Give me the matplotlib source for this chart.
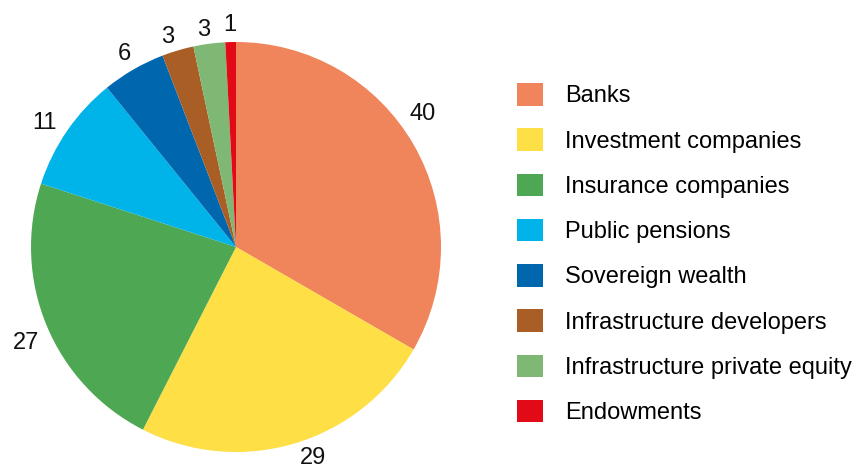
import numpy as np
import matplotlib
matplotlib.use('Agg')
import matplotlib.pyplot as plt
from matplotlib.patches import Patch

plt.rcParams['font.family'] = ['Liberation Sans', 'DejaVu Sans']

# data
categories = ['Banks', 'Investment companies', 'Insurance companies',
              'Public pensions', 'Sovereign wealth', 'Infrastructure developers',
              'Infrastructure private equity', 'Endowments']
values = [40, 29, 27, 11, 6, 3, 3, 1]
colors = ['#F0845A', '#FEDF45', '#4EA753', '#00B4EA',
          '#0066AE', '#A95E26', '#7EB874', '#E30A17']

# small nudges for value labels (degrees, radius)
label_dang = [5.5, 3.5, 2, 1.5, 0, 1.5, 1, 0]
label_r = [1.12, 1.095, 1.125, 1.115, 1.085, 1.075, 1.07, 1.085]

W, H = 857, 470
cx, cy, R = 236, 247, 205
FS = 17

fig = plt.figure(figsize=(W / 100, H / 100), dpi=100)
ax = fig.add_axes([0, 0, 1, 1])
wedges, _ = ax.pie(values, colors=colors, startangle=90, counterclock=False,
                   radius=1, wedgeprops=dict(linewidth=0))
ax.set_xlim(-cx / R, (W - cx) / R)
ax.set_ylim(-(H - cy) / R, cy / R)
ax.set_aspect('auto')
ax.axis('off')

for w, v, da, r in zip(wedges, values, label_dang, label_r):
    mid = np.deg2rad((w.theta1 + w.theta2) / 2 + da)
    ax.text(r * np.cos(mid), r * np.sin(mid), str(v), ha='center', va='center',
            fontsize=FS, color='#111111')

handles = [Patch(facecolor=c, edgecolor='none') for c in colors]
fig.legend(handles, categories, loc='upper left', bbox_to_anchor=(517 / W, 1 - 83 / H),
           frameon=False, fontsize=FS, handlelength=1.1, handleheight=1.1,
           handletextpad=0.93, labelspacing=0.885, borderaxespad=0, borderpad=0)

fig.savefig('out.png', dpi=100)
